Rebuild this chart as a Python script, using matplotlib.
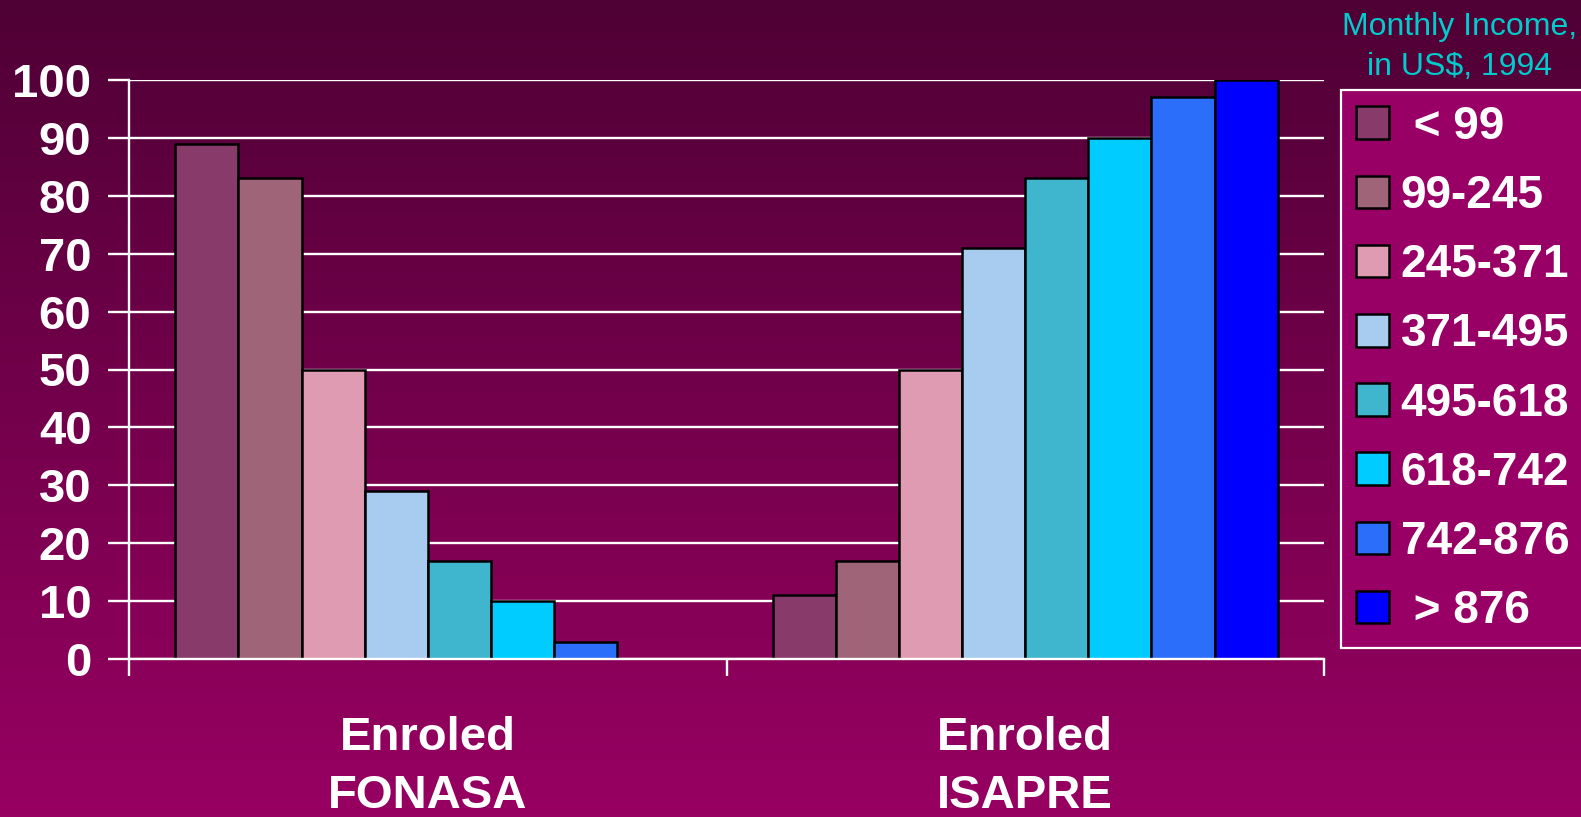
import numpy as np
import matplotlib
matplotlib.use("Agg")
import matplotlib.pyplot as plt
from matplotlib.colors import LinearSegmentedColormap

plt.rcParams['font.family'] = ['Liberation Sans', 'DejaVu Sans']

# ---------------------------------------------------------------- data
groups = ["Enroled\nFONASA", "Enroled\nISAPRE"]
income_bands = [" < 99", "99-245", "245-371", "371-495",
                "495-618", "618-742", "742-876", " > 876"]
fonasa = [89, 83, 50, 29, 17, 10, 3, 0]
isapre = [11, 17, 50, 71, 83, 90, 97, 100]
band_colors = ["#883A6A", "#A06478", "#DF9BB2", "#A8CCF0",
               "#40B6CE", "#00CCFF", "#2A6EFA", "#0000FF"]
y_ticks = list(range(0, 101, 10))

# ---------------------------------------------------------------- figure
W, H, dpi = 1581, 817, 100
fig = plt.figure(figsize=(W / dpi, H / dpi), dpi=dpi)

# gradient background (dark maroon at top -> magenta at bottom)
bg = fig.add_axes([0, 0, 1, 1], zorder=-10)
cmap = LinearSegmentedColormap.from_list("bg", ["#4F0035", "#980062"])
bg.imshow(np.linspace(0, 1, 256).reshape(-1, 1), aspect="auto", cmap=cmap,
          extent=[0, 1, 0, 1])
bg.set_axis_off()

ax = fig.add_axes([129 / W, (H - 659) / H, (1324 - 129) / W, (659 - 80) / H])
ax.set_facecolor("none")

n = len(income_bands)
bw = 0.1056
x = np.arange(len(groups)) + 0.5
values = np.array([fonasa, isapre])
for i in range(n):
    ax.bar(x + (i - (n - 1) / 2) * bw, values[:, i], width=bw,
           color=band_colors[i], edgecolor="black", linewidth=1.8,
           label=income_bands[i], zorder=3)

ax.set_xlim(0, 2)
ax.set_ylim(0, 100)
ax.set_yticks(y_ticks)
ax.yaxis.grid(True, color="white", linewidth=1.7, zorder=1)
ax.set_xticks([0, 1, 2])
ax.set_xticklabels([])
ax.set_xticks(x, minor=True)
ax.set_xticklabels(groups, minor=True, fontsize=34, fontweight="bold",
                   color="white", linespacing=1.42)
ax.tick_params(axis="x", which="minor", length=0, pad=41)
ax.tick_params(axis="x", which="major", length=12, width=1.7,
               color="white", direction="out")
ax.tick_params(axis="y", length=15, width=1.7, color="white", pad=12,
               labelsize=34, labelcolor="white")
for lab in ax.get_yticklabels():
    lab.set_fontweight("bold")

for side in ["top", "right"]:
    ax.spines[side].set_visible(False)
for side in ["left", "bottom"]:
    ax.spines[side].set_color("white")
    ax.spines[side].set_linewidth(1.7)
    ax.spines[side].set_zorder(4)

leg = fig.legend(loc="upper left", bbox_to_anchor=(1341 / W, 0, 0.2, 1 - 90 / H),
                 mode="expand", fontsize=33, frameon=True, fancybox=False,
                 handlelength=0.72, handleheight=0.72, handletextpad=0.26,
                 labelspacing=0.55, borderpad=0.32, borderaxespad=0)
frame = leg.get_frame()
frame.set_facecolor("#990066")
frame.set_edgecolor("white")
frame.set_linewidth(1.6)
frame.set_alpha(1)
for t in leg.get_texts():
    t.set_color("white")
    t.set_fontweight("bold")

fig.text(1460 / W, 1 - 47 / H, "Monthly Income,\nin US$, 1994", ha="center",
         va="center", fontsize=23, color="#00CCCC", linespacing=1.42)

fig.savefig("out.png", dpi=dpi)
